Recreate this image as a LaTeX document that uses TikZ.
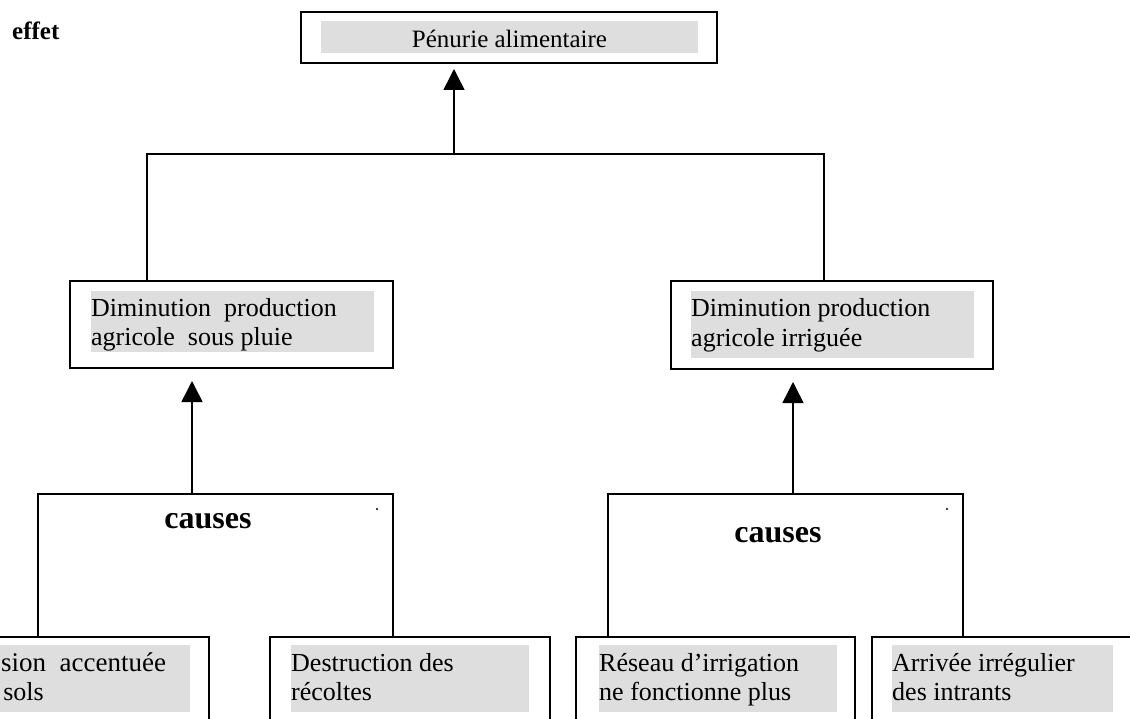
\documentclass[tikz,border=0pt]{standalone}
\usepackage{fontspec}
\setmainfont{Liberation Serif}
\usetikzlibrary{arrows.meta}
\definecolor{shadegray}{RGB}{222,222,222}
\tikzset{
  boxnode/.style={draw, line width=2pt, fill=white, inner sep=0pt},
  shadebar/.style={fill=shadegray, draw=none, inner sep=0pt, anchor=north west},
  txt/.style={font=\fontsize{26}{29}\selectfont, inner sep=0pt, anchor=base west, align=left},
  causeslbl/.style={font=\fontsize{32}{36}\selectfont\bfseries, inner sep=0pt, anchor=base},
  conn/.style={line width=1.5pt},
  arr/.style={line width=1.5pt, -{Triangle[length=21pt,width=21pt]}},
  dotnode/.style={circle, fill=black, inner sep=0pt, minimum size=2.2pt}
}
\begin{document}
\begin{tikzpicture}[x=1pt,y=-1pt]
\useasboundingbox (0,0) rectangle (1130,719);
\clip (0,0) rectangle (1130,719);
\fill[white] (0,0) rectangle (1130,719);

% label effet
\node[font=\fontsize{25}{28}\selectfont\bfseries, inner sep=0pt, anchor=base west] (effet) at (12,40) {effet};

% top box
\node[boxnode, minimum width=416pt, minimum height=51pt] (top) at (509,37.5) {};
\node[shadebar, minimum width=377pt, minimum height=32pt] (gtop) at (321,21) {};
\node[font=\fontsize{25}{28}\selectfont, inner sep=0pt, anchor=base] (ttop) at (509.5,48) {Pénurie alimentaire};

% second level boxes
\node[boxnode, minimum width=323pt, minimum height=87pt] (dl) at (231.5,324.5) {};
\node[shadebar, minimum width=283pt, minimum height=61pt] (gdl) at (91,291) {};
\node[txt] (tdl) at (91,345) {Diminution\ \ production\\agricole\ \ sous pluie};

\node[boxnode, minimum width=322pt, minimum height=88pt] (dr) at (832,325) {};
\node[shadebar, minimum width=283pt, minimum height=67pt] (gdr) at (691,291) {};
\node[txt] (tdr) at (691,346) {Diminution production\\agricole irriguée};

% bottom boxes
\node[boxnode, minimum width=280pt, minimum height=103pt] (bl) at (69,688.5) {};
\node[shadebar, minimum width=228pt, minimum height=67pt] (gbl) at (-38,645) {};
\node[txt] (tbl) at (-38,700) {{\fontsize{27}{29}\selectfont Erosion\ \ accentuée}\\des sols};

\node[boxnode, minimum width=280pt, minimum height=103pt] (bd) at (410,688.5) {};
\node[shadebar, minimum width=238pt, minimum height=67pt] (gbd) at (291,645) {};
\node[txt] (tbd) at (291,700) {Destruction des\\récoltes};

\node[boxnode, minimum width=279pt, minimum height=103pt] (br) at (715.5,688.5) {};
\node[shadebar, minimum width=238pt, minimum height=67pt] (gbr) at (599,645) {};
\node[txt] (tbr) at (599,700) {Réseau d’irrigation\\ne fonctionne plus};

\node[boxnode, minimum width=280pt, minimum height=103pt] (ba) at (1012,688.5) {};
\node[shadebar, minimum width=221pt, minimum height=67pt] (gba) at (892,645) {};
\node[txt] (tba) at (892,700) {Arrivée irrégulier\\des intrants};

% junction coordinates
\coordinate (jl) at (147,154);
\coordinate (jr) at (824,154);
\coordinate (jt) at (454,154);
\coordinate (cl1) at (38,494);
\coordinate (cl2) at (393,494);
\coordinate (cr1) at (608,494);
\coordinate (cr2) at (963,494);
\coordinate (al) at (192,494);
\coordinate (ar) at (793,494);

% top connectors
\draw[conn] (jl |- dl.north) -- (jl) -- (jr) -- (jr |- dr.north);
\draw[arr, shorten >=5pt] (jt) -- (jt |- top.south);

% causes brackets
\draw[conn] (cl1 |- bl.north) -- (cl1) -- (cl2) -- (cl2 |- bd.north);
\draw[conn] (cr1 |- br.north) -- (cr1) -- (cr2) -- (cr2 |- ba.north);
\node[causeslbl] (cl) at (208,528) {causes};
\node[causeslbl] (cr) at (778,542) {causes};
\node[dotnode] (dotl) at (377,509) {};
\node[dotnode] (dotr) at (947,509) {};

% arrows up to second level
\draw[arr, shorten >=12pt] (al) -- (al |- dl.south);
\draw[arr, shorten >=12pt] (ar) -- (ar |- dr.south);
\end{tikzpicture}
\end{document}
